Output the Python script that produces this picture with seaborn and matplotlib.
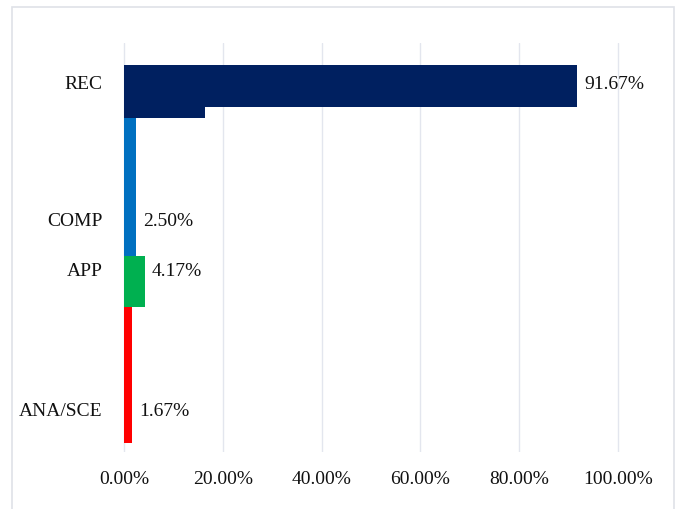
import matplotlib
matplotlib.use("Agg")
import matplotlib.pyplot as plt
import seaborn as sns
import pandas as pd
from matplotlib.patches import Rectangle

# ---- data ----
categories = ["REC", "COMP", "APP", "ANA/SCE"]
values = [91.67, 2.50, 4.17, 1.67]
value_labels = ["91.67%", "2.50%", "4.17%", "1.67%"]
x_ticks = [0, 20, 40, 60, 80, 100]
x_tick_labels = ["0.00%", "20.00%", "40.00%", "60.00%", "80.00%", "100.00%"]

# ---- layout (as drawn in the reference, in axis units from top) ----
bar_top = [22, 75, 213, 264]
bar_bottom = [64, 213, 264, 400]
label_pos = [39, 177, 227, 367]
colors = ["#002060", "#0070C0", "#00B050", "#FF0000"]
# rendering artefact under the REC bar
rec_strip_value = [16.5]
rec_strip_span = [64, 75]

sns.set_theme(style="white")
plt.rcParams["font.family"] = ["Liberation Serif", "DejaVu Serif"]

fig = plt.figure(figsize=(6.75, 5.09), dpi=100)
ax = fig.add_axes([115 / 675, 1 - 452 / 509, (638 - 115) / 675, 409 / 509])

for i, cat in enumerate(categories):
    center = (bar_top[i] + bar_bottom[i]) / 2
    thick = bar_bottom[i] - bar_top[i]
    df = pd.DataFrame({"value": [values[i]], "pos": [center]})
    sns.barplot(data=df, x="value", y="pos", orient="h", native_scale=True,
                width=thick, color=colors[i], saturation=1, ax=ax,
                linewidth=0, zorder=3)

df_s = pd.DataFrame({"value": rec_strip_value,
                     "pos": [(rec_strip_span[0] + rec_strip_span[1]) / 2]})
sns.barplot(data=df_s, x="value", y="pos", orient="h", native_scale=True,
            width=rec_strip_span[1] - rec_strip_span[0], color=colors[0],
            saturation=1, ax=ax, linewidth=0, zorder=3)

for i, lab in enumerate(value_labels):
    ax.annotate(lab, (values[i], label_pos[i] + 2), xytext=(7, 0),
                textcoords="offset pixels", ha="left", va="center",
                fontsize=14, color="#111111", zorder=4)

ax.set_xlim(-1.8, 104)
ax.set_ylim(409, 0)
ax.set_xticks(x_ticks)
ax.set_xticklabels(x_tick_labels)
ax.set_yticks(label_pos)
ax.set_yticklabels(categories)
ax.tick_params(axis="x", length=0, pad=14, labelsize=14, labelcolor="#111111")
ax.tick_params(axis="y", length=0, pad=9, labelsize=14, labelcolor="#111111")
ax.set_xlabel("")
ax.set_ylabel("")
ax.grid(False)
for x in x_ticks:
    ax.axvline(x, color="#e3e6ee", linewidth=1.0, zorder=1)
for s in ax.spines.values():
    s.set_visible(False)

fig.patches.append(Rectangle((12 / 675, -0.01), (674 - 12) / 675, 1.01 - 6.5 / 509,
                             transform=fig.transFigure, fill=False,
                             edgecolor="#dfe2e8", linewidth=1.2))

fig.savefig("out.png", dpi=100)
